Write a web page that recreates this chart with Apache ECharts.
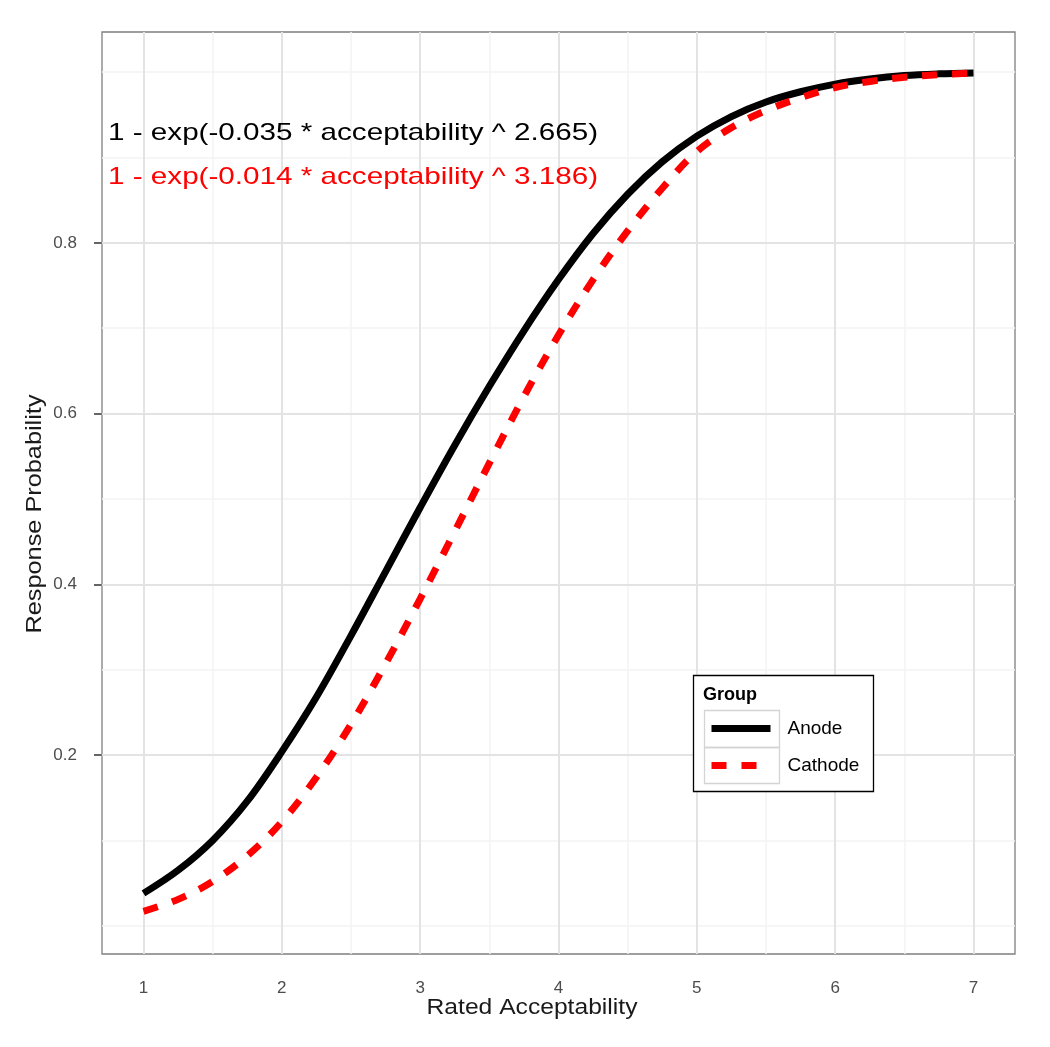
<!DOCTYPE html>
<html>
<head>
<meta charset="utf-8">
<script src="https://cdn.jsdelivr.net/npm/echarts@6/dist/echarts.min.js"></script>
<style>
  html, body { margin: 0; padding: 0; background: #ffffff; }
  #chart { width: 1050px; height: 1047px; }
</style>
</head>
<body>
<div id="chart"></div>
<script>
// ---- data ----
const acceptability = [1, 1.25, 1.5, 1.75, 2, 2.25, 2.5, 2.75, 3, 3.25, 3.5, 3.75, 4,
                       4.25, 4.5, 4.75, 5, 5.25, 5.5, 5.75, 6, 6.25, 6.5, 6.75, 7];
const anode = [0.038, 0.065, 0.100, 0.146, 0.204, 0.268, 0.340, 0.415, 0.490, 0.563,
               0.632, 0.697, 0.757, 0.811, 0.857, 0.895, 0.925, 0.948, 0.965, 0.977,
               0.986, 0.992, 0.996, 0.998, 0.999];
const cathode = [0.017, 0.031, 0.052, 0.082, 0.122, 0.174, 0.236, 0.307, 0.383, 0.462,
                 0.542, 0.620, 0.692, 0.757, 0.814, 0.864, 0.907, 0.935, 0.955, 0.970,
                 0.982, 0.989, 0.994, 0.997, 0.999];
const xTicks = [1, 2, 3, 4, 5, 6, 7];
const xMinorGrid = [1.5, 2.5, 3.5, 4.5, 5.5, 6.5];
const yTicks = [0.2, 0.4, 0.6, 0.8];
const yMinorGrid = [0, 0.1, 0.3, 0.5, 0.7, 0.9, 1.0];
const seriesNames = ['Anode', 'Cathode'];
const legendTitle = 'Group';
const formulaAnode = '1 - exp(-0.035 * acceptability ^ 2.665)';
const formulaCathode = '1 - exp(-0.014 * acceptability ^ 3.186)';
const xTitle = 'Rated Acceptability';
const yTitle = 'Response Probability';

const zip = (xs, ys) => xs.map((x, i) => [x, ys[i]]);

const majorStyle = { color: '#e3e3e3', width: 2, type: 'solid' };
const minorStyle = { color: '#f3f3f3', width: 1.5, type: 'solid' };
const gridLines = []
  .concat(xMinorGrid.map(v => ({ xAxis: v, lineStyle: minorStyle })))
  .concat(yMinorGrid.map(v => ({ yAxis: v, lineStyle: minorStyle })))
  .concat(xTicks.map(v => ({ xAxis: v, lineStyle: majorStyle })))
  .concat(yTicks.map(v => ({ yAxis: v, lineStyle: majorStyle })));

const chart = echarts.init(document.getElementById('chart'), null, { renderer: 'canvas' });

const option = {
  animation: false,
  backgroundColor: '#ffffff',
  grid: { left: 102, right: 35, top: 32, bottom: 93, show: true,
          borderColor: '#7f7f7f', borderWidth: 1.3, backgroundColor: 'transparent', z: 3 },
  xAxis: {
    type: 'value', min: 0.7, max: 7.3,
    axisLine: { show: false },
    splitLine: { show: false },
    axisTick: { show: true, length: 11, customValues: xTicks,
                lineStyle: { color: '#333333', width: 1.5 } },
    axisLabel: { customValues: xTicks, margin: 26, color: '#4d4d4d', fontSize: 17,
                 fontFamily: 'Liberation Sans' }
  },
  yAxis: {
    type: 'value', min: -0.033, max: 1.047,
    axisLine: { show: false },
    splitLine: { show: false },
    axisTick: { show: true, length: 8, customValues: yTicks,
                lineStyle: { color: '#333333', width: 1.5 } },
    axisLabel: { customValues: yTicks, margin: 25, color: '#4d4d4d', fontSize: 17,
                 fontFamily: 'Liberation Sans', formatter: v => v.toFixed(1) }
  },
  legend: {
    orient: 'vertical', left: 708, top: 719, padding: 0, z: 30,
    itemWidth: 59, itemHeight: 14, itemGap: 18,
    selectedMode: false,
    data: seriesNames,
    textStyle: { fontSize: 19, color: '#000000', fontFamily: 'Liberation Sans',
                 padding: [0, 0, 0, 12] },
    lineStyle: { width: 7 },
    itemStyle: { opacity: 0 }
  },
  series: [
    {
      name: 'grid', type: 'line', data: [], z: 0, silent: true,
      markLine: { silent: true, symbol: ['none', 'none'], label: { show: false },
                  animation: false, data: gridLines }
    },
    {
      name: seriesNames[0], type: 'line', data: zip(acceptability, anode),
      smooth: 0.35, symbol: 'none', z: 5,
      lineStyle: { color: '#000000', width: 7, cap: 'butt' },
      itemStyle: { color: '#000000' }
    },
    {
      name: seriesNames[1], type: 'line', data: zip(acceptability, cathode),
      smooth: 0.35, symbol: 'none', z: 6,
      lineStyle: { color: '#ff0000', width: 7, type: [15, 15], cap: 'butt' },
      itemStyle: { color: '#ff0000' }
    }
  ],
  graphic: [
    { type: 'text', x: 108, y: 133, scaleX: 1.235, z: 10,
      style: { text: formulaAnode, fill: '#000000', font: '24px "Liberation Sans"',
               textAlign: 'left', textVerticalAlign: 'middle' } },
    { type: 'text', x: 108, y: 177, scaleX: 1.235, z: 10,
      style: { text: formulaCathode, fill: '#ff0000', font: '24px "Liberation Sans"',
               textAlign: 'left', textVerticalAlign: 'middle' } },
    { type: 'text', x: 532, y: 1008, scaleX: 1.12, z: 10,
      style: { text: xTitle, fill: '#1a1a1a', font: '22px "Liberation Sans"',
               textAlign: 'center', textVerticalAlign: 'middle' } },
    { type: 'text', x: 35, y: 514, rotation: Math.PI / 2, scaleX: 1.15, z: 10,
      style: { text: yTitle, fill: '#1a1a1a', font: '22px "Liberation Sans"',
               textAlign: 'center', textVerticalAlign: 'middle' } },
    // legend frame, title and key boxes
    { type: 'rect', z: 20, shape: { x: 693.5, y: 675.5, width: 180, height: 116 },
      style: { fill: '#ffffff', stroke: '#000000', lineWidth: 1.3 } },
    { type: 'text', x: 703, y: 695, z: 21,
      style: { text: legendTitle, fill: '#000000', font: 'bold 18px "Liberation Sans"',
               textAlign: 'left', textVerticalAlign: 'middle' } },
    { type: 'rect', z: 21, shape: { x: 704.5, y: 710.5, width: 75, height: 37 },
      style: { fill: 'none', stroke: '#d4d4d4', lineWidth: 1.3 } },
    { type: 'rect', z: 21, shape: { x: 704.5, y: 747.5, width: 75, height: 36 },
      style: { fill: 'none', stroke: '#d4d4d4', lineWidth: 1.3 } }
  ]
};
chart.setOption(option);
</script>
</body>
</html>
